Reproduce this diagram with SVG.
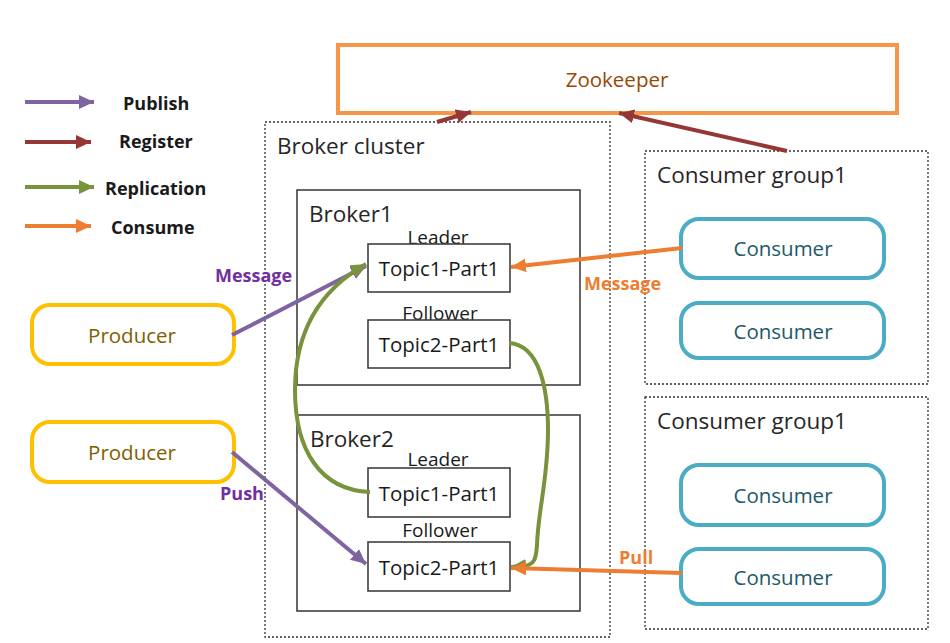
<svg xmlns="http://www.w3.org/2000/svg" width="950" height="643" viewBox="0 0 950 643">
<style>
text{font-family:"Open Sans","Liberation Sans",sans-serif}
.t{font-size:22.5px;fill:#262626}
.s{font-size:20.5px;fill:#1a1a1a;text-anchor:middle}
.lbl{font-size:19px;fill:#1a1a1a;text-anchor:middle}
.lg{font-size:18px;font-weight:bold;fill:#1a1a1a}
.cl{font-size:18px;font-weight:bold}
.dot{fill:none;stroke:#333;stroke-width:1.3;stroke-dasharray:2 2}
.box{fill:#fff;stroke:#404040;stroke-width:1.6}
.prod{fill:#fff;stroke:#FFC000;stroke-width:4}
.cons{fill:#fff;stroke:#4BACC6;stroke-width:4}
.pub{fill:none;stroke:#8064A2;stroke-width:4;marker-end:url(#mp)}
.reg{fill:none;stroke:#953735;stroke-width:4;marker-end:url(#mr)}
.rep{fill:none;stroke:#77933C;stroke-width:4;marker-end:url(#mg)}
.con{fill:none;stroke:#ED7D31;stroke-width:4;marker-end:url(#mo)}
</style>
<defs>
<marker id="mp" markerUnits="userSpaceOnUse" markerWidth="16" markerHeight="16" refX="15" refY="7" orient="auto"><path d="M0,0 L15,7 L0,14 z" fill="#8064A2"/></marker>
<marker id="mr" markerUnits="userSpaceOnUse" markerWidth="16" markerHeight="16" refX="15" refY="7" orient="auto"><path d="M0,0 L15,7 L0,14 z" fill="#953735"/></marker>
<marker id="mg" markerUnits="userSpaceOnUse" markerWidth="16" markerHeight="16" refX="15" refY="7" orient="auto"><path d="M0,0 L15,7 L0,14 z" fill="#77933C"/></marker>
<marker id="mo" markerUnits="userSpaceOnUse" markerWidth="16" markerHeight="16" refX="15" refY="7" orient="auto"><path d="M0,0 L15,7 L0,14 z" fill="#ED7D31"/></marker>
</defs>
<rect width="950" height="643" fill="#fff"/>

<g id="legend">
<line class="pub" x1="25" y1="102" x2="94" y2="102"/>
<line class="reg" x1="25" y1="142" x2="91" y2="142"/>
<line class="rep" x1="25" y1="187" x2="94" y2="187"/>
<line class="con" x1="25" y1="226" x2="91" y2="226"/>
<text class="lg" x="123" y="110">Publish</text>
<text class="lg" x="119" y="148">Register</text>
<text class="lg" x="105" y="195">Replication</text>
<text class="lg" x="111" y="234">Consume</text>
</g>

<g id="zookeeper">
<rect x="338" y="45" width="559" height="68" fill="#fff" stroke="#F79646" stroke-width="4"/>
<text x="617" y="87" style="font-size:20.5px;fill:#974706;text-anchor:middle">Zookeeper</text>
</g>

<g id="broker-cluster">
<rect class="dot" x="265" y="122" width="345" height="515"/>
<text class="t" x="277" y="154">Broker cluster</text>
</g>

<g id="broker1">
<rect class="box" x="297" y="190" width="283" height="195"/>
<text class="t" x="309" y="222">Broker1</text>
<text class="lbl" x="438" y="244">Leader</text>
<text class="lbl" x="440" y="320">Follower</text>
</g>
<g id="b1-topic1">
<rect class="box" x="368" y="244" width="142" height="48"/>
<text class="s" x="439" y="276">Topic1-Part1</text>
</g>
<g id="b1-topic2">
<rect class="box" x="368" y="320" width="142" height="48"/>
<text class="s" x="439" y="352">Topic2-Part1</text>
</g>

<g id="broker2">
<rect class="box" x="297" y="415" width="283" height="196"/>
<text class="t" x="310" y="447">Broker2</text>
<text class="lbl" x="438" y="466">Leader</text>
<text class="lbl" x="440" y="537">Follower</text>
</g>
<g id="b2-topic1">
<rect class="box" x="368" y="468" width="142" height="49"/>
<text class="s" x="439" y="501">Topic1-Part1</text>
</g>
<g id="b2-topic2">
<rect class="box" x="368" y="542" width="142" height="49"/>
<text class="s" x="439" y="575">Topic2-Part1</text>
</g>

<g id="producer1">
<rect class="prod" x="32" y="305" width="202" height="59" rx="18"/>
<text class="s" x="132" y="343" style="fill:#7F6000">Producer</text>
</g>
<g id="producer2">
<rect class="prod" x="32" y="422" width="202" height="60" rx="18"/>
<text class="s" x="132" y="460" style="fill:#7F6000">Producer</text>
</g>

<g id="consumer-group1">
<rect class="dot" x="645" y="151" width="283" height="233"/>
<text class="t" x="657" y="183">Consumer group1</text>
</g>
<g id="consumer1">
<rect class="cons" x="681" y="219" width="203" height="59" rx="18"/>
<text class="s" x="783" y="256" style="fill:#215968">Consumer</text>
</g>
<g id="consumer2">
<rect class="cons" x="681" y="303" width="203" height="55" rx="18"/>
<text class="s" x="783" y="339" style="fill:#215968">Consumer</text>
</g>

<g id="consumer-group2">
<rect class="dot" x="645" y="397" width="283" height="232"/>
<text class="t" x="657" y="429">Consumer group1</text>
</g>
<g id="consumer3">
<rect class="cons" x="681" y="465" width="203" height="60" rx="18"/>
<text class="s" x="783" y="503" style="fill:#215968">Consumer</text>
</g>
<g id="consumer4">
<rect class="cons" x="681" y="549" width="203" height="55" rx="18"/>
<text class="s" x="783" y="585" style="fill:#215968">Consumer</text>
</g>

<g id="connectors">
<line class="pub" x1="232" y1="335" x2="366" y2="266"/>
<line class="pub" x1="232" y1="452" x2="366" y2="564"/>
<path class="rep" d="M370 492 C320 490 295 450 295 390 C295 330 320 290 366 264"/>
<path class="rep" d="M509 343 C540 345 548 390 548 430 C548 480 538 510 537 545 C536 560 534 564 525 566 L511 567"/>
<line class="con" x1="682" y1="248" x2="511" y2="267"/>
<line class="con" x1="682" y1="573" x2="511" y2="568"/>
<line class="reg" x1="437" y1="122" x2="471" y2="112"/>
<line class="reg" x1="787" y1="151" x2="619" y2="113"/>
<text class="cl" x="215" y="282" style="fill:#7030A0">Message</text>
<text class="cl" x="220" y="500" style="fill:#7030A0">Push</text>
<text class="cl" x="584" y="290" style="fill:#ED7D31">Message</text>
<text class="cl" x="619" y="564" style="fill:#ED7D31">Pull</text>
</g>
</svg>
